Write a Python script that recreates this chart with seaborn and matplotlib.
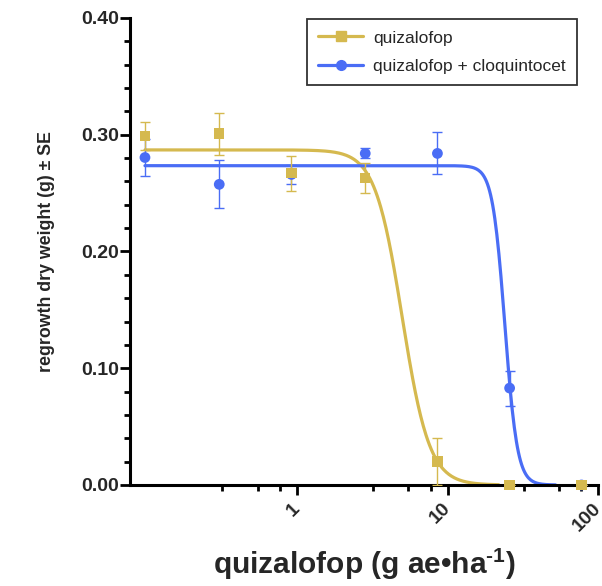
import numpy as np
import pandas as pd
import matplotlib
matplotlib.use("Agg")
import matplotlib.pyplot as plt
from matplotlib.ticker import FixedLocator, NullFormatter
from matplotlib.lines import Line2D
import seaborn as sns

# ---- data ----
dose = [0.098, 0.305, 0.92, 2.84, 8.56, 25.8, 77.4]
quiz_mean = [0.299, 0.301, 0.267, 0.263, 0.020, 0.0, 0.0]
quiz_se = [0.012, 0.018, 0.015, 0.0125, 0.020, 0.0, 0.0]
cloq_mean = [0.2805, 0.2575, 0.266, 0.284, 0.284, 0.083, 0.0]
cloq_se = [0.016, 0.0205, 0.0085, 0.0043, 0.018, 0.015, 0.0]

# fitted log-logistic curves: top, EC50, hill slope, x range
quiz_fit = dict(top=0.287, ec50=5.0, hill=4.8, xmin=0.098, xmax=21.8)
cloq_fit = dict(top=0.2735, ec50=24.0, hill=10.5, xmin=0.098, xmax=52.0)

labels = ["quizalofop", "quizalofop + cloquintocet"]
yticks = [0.00, 0.10, 0.20, 0.30, 0.40]
xticks = [1, 10, 100]
xtick_labels = ["1", "10", "100"]

YELLOW = "#D5B94F"
BLUE = "#4A6DF5"

sns.set_style("ticks")
plt.rcParams["font.family"] = ["Liberation Sans", "DejaVu Sans"]
plt.rcParams["mathtext.fontset"] = "custom"
plt.rcParams["mathtext.rm"] = "Liberation Sans:bold"
plt.rcParams["mathtext.bf"] = "Liberation Sans:bold"


def curve(p):
    x = np.geomspace(p["xmin"], p["xmax"], 400)
    y = p["top"] / (1.0 + (x / p["ec50"]) ** p["hill"])
    return pd.DataFrame({"x": x, "y": y})


fig = plt.figure(figsize=(6.02, 5.86), dpi=100)
ax = fig.add_axes([0.216, 0.1724, 0.7778, 0.7969])

cq = curve(quiz_fit)
cc = curve(cloq_fit)
sns.lineplot(data=cq, x="x", y="y", ax=ax, color=YELLOW, lw=2.3, zorder=2)
sns.lineplot(data=cc, x="x", y="y", ax=ax, color=BLUE, lw=2.3, zorder=2)

ax.errorbar(dose, cloq_mean, yerr=cloq_se, fmt="none", ecolor=BLUE, elinewidth=1.0,
            capsize=3.6, capthick=1.0, zorder=3)
ax.errorbar(dose, quiz_mean, yerr=quiz_se, fmt="none", ecolor=YELLOW, elinewidth=1.0,
            capsize=3.6, capthick=1.0, zorder=4)

df_c = pd.DataFrame({"x": dose, "y": cloq_mean})
df_q = pd.DataFrame({"x": dose, "y": quiz_mean})
sns.scatterplot(data=df_c, x="x", y="y", ax=ax, color=BLUE, marker="o", s=60,
                edgecolor="none", zorder=5, clip_on=False)
sns.scatterplot(data=df_q, x="x", y="y", ax=ax, color=YELLOW, marker="s", s=55,
                edgecolor="none", zorder=6, clip_on=False)

ax.set_xscale("log")
ax.set_xlim(0.078, 100)
ax.set_ylim(0, 0.40)

ax.set_yticks(yticks)
ax.set_yticklabels([f"{v:.2f}" for v in yticks])
ax.yaxis.set_minor_locator(FixedLocator(np.arange(0.02, 0.40, 0.02)))
ax.xaxis.set_major_locator(FixedLocator(xticks))
ax.set_xticklabels(xtick_labels)
minors = [m * d for d in [0.1, 1, 10] for m in [3.2, 5.5, 7.7]]
ax.xaxis.set_minor_locator(FixedLocator(minors))
ax.xaxis.set_minor_formatter(NullFormatter())

ax.tick_params(axis="both", which="major", length=7, width=2, color="black")
ax.tick_params(axis="both", which="minor", length=4.5, width=2, color="black")
ax.tick_params(axis="y", which="major", pad=1)
ax.tick_params(axis="x", which="major", pad=8)

for lab in ax.get_yticklabels():
    lab.set_fontweight("bold")
    lab.set_fontsize(14)
for lab in ax.get_xticklabels():
    lab.set_fontweight("bold")
    lab.set_fontsize(14)
    lab.set_rotation(45)
    lab.set_rotation_mode("anchor")
    lab.set_ha("right")
    lab.set_va("center")

for s in ["top", "right"]:
    ax.spines[s].set_visible(False)
for s in ["left", "bottom"]:
    ax.spines[s].set_linewidth(2.2)
    ax.spines[s].set_color("black")

ax.set_xlabel("quizalofop (g ae•ha$^{\u20101}$)", fontsize=21.5, fontweight="bold", labelpad=8)
ax.set_ylabel("regrowth dry weight (g) ± SE", fontsize=12.8, fontweight="bold", labelpad=19)

handles = [Line2D([0], [0], color=YELLOW, lw=2.3, marker="s", markersize=7),
           Line2D([0], [0], color=BLUE, lw=2.3, marker="o", markersize=7)]
leg = ax.legend(handles, labels, loc="upper right", bbox_to_anchor=(0.9545, 0.998),
                borderaxespad=0, frameon=True, fancybox=False, edgecolor="black",
                fontsize=12.5, handlelength=2.6, handletextpad=0.55,
                borderpad=0.66, labelspacing=0.75)
leg.get_frame().set_linewidth(1.3)

fig.savefig("out.png", dpi=100)
